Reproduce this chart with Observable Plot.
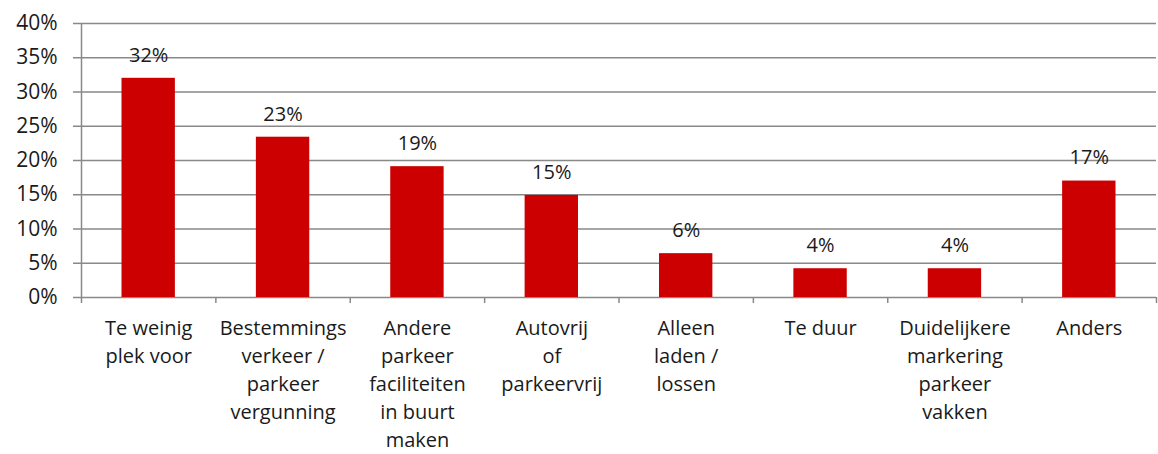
<!DOCTYPE html>
<html><head><meta charset="utf-8">
<script src="https://cdn.jsdelivr.net/npm/d3@7"></script>
<script src="https://cdn.jsdelivr.net/npm/@observablehq/plot@0.6"></script>
<style>
body{margin:0;background:#fff;}
svg{font-family:"Open Sans",Lato,sans-serif;}
</style></head>
<body><div id="chart"></div>
<script>
const categories = [
  "Te weinig\nplek voor",
  "Bestemmings\nverkeer /\nparkeer\nvergunning",
  "Andere\nparkeer\nfaciliteiten\nin buurt\nmaken",
  "Autovrij\nof\nparkeervrij",
  "Alleen\nladen /\nlossen",
  "Te duur",
  "Duidelijkere\nmarkering\nparkeer\nvakken",
  "Anders"
];
const values = [32.0, 23.4, 19.1, 14.9, 6.4, 4.2, 4.2, 17.0];
const yTicks = [0, 5, 10, 15, 20, 25, 30, 35, 40];

const data = categories.map((c, i) => ({c, i, v: values[i]}));
const grid = "#898989";
const fs = 20;

const plot = Plot.plot({
  width: 1158,
  height: 454,
  marginLeft: 81,
  marginRight: 2,
  marginTop: 23,
  marginBottom: 157,
  style: {fontSize: fs + "px", color: "#1a1a1a", background: "#fff"},
  x: {domain: [0, categories.length], axis: null},
  y: {domain: [0, 40], axis: null},
  marks: [
    Plot.ruleY(yTicks, {stroke: grid, strokeWidth: 1.5}),
    Plot.ruleX([0], {stroke: grid, strokeWidth: 1.5}),
    Plot.axisY({ticks: yTicks, tickSize: 8, tickPadding: 16, stroke: grid, strokeWidth: 1.5, tickFormat: d => d + "%", fontSize: 21, fill: "#1a1a1a", label: null}),
    Plot.axisX({ticks: d3.range(categories.length + 1), tickSize: 6, stroke: grid, strokeWidth: 1.5, tickFormat: () => "", label: null}),
    Plot.rectY(data, {x1: "i", x2: d => d.i + 1, y: "v", fill: "#cc0000", insetLeft: 40.5, insetRight: 40.5}),
    Plot.text(data, {x: d => d.i + 0.5, y: "v", text: d => Math.round(d.v) + "%", dy: -23, fontSize: fs, fill: "#1a1a1a"}),
    Plot.text(data, {x: d => d.i + 0.5, y: 0, text: "c", dy: 18, lineAnchor: "top", lineHeight: 1.4, fontSize: fs, fill: "#1a1a1a"})
  ]
});
document.getElementById("chart").append(plot);
</script></body></html>
